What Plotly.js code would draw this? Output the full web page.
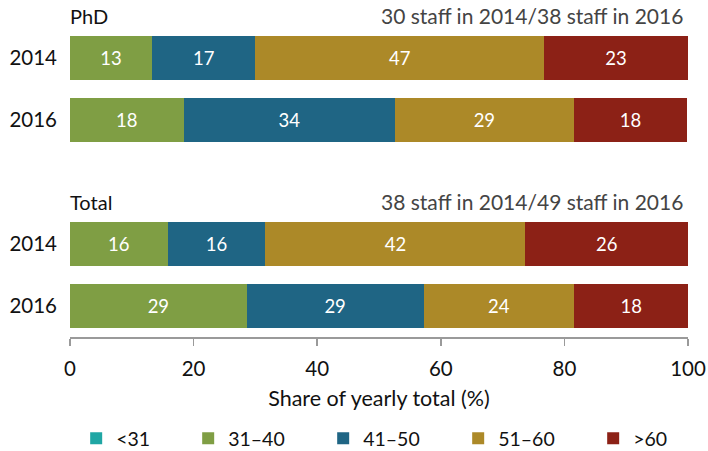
<!DOCTYPE html>
<html>
<head>
<meta charset="utf-8">
<script src="https://cdn.plot.ly/plotly-3.0.1.min.js"></script>
<style>
  body { margin: 0; background: #fff; }
  #chart { width: 708px; height: 451px; }
</style>
</head>
<body>
<div id="chart"></div>
<script>
// rows: PhD 2014, PhD 2016, (gap), Total 2014, Total 2016
const rowPos = [0, 1, 3, 4];
const rowLabels = ['2014', '2016', '2014', '2016'];

const ageGroups = ['<31', '31–40', '41–50', '51–60', '>60'];
const colors = ['#1fa6a4', '#7f9e44', '#1f6584', '#ac8928', '#8c2116'];
const legendWidths = [67, 90, 90, 90, 40];

// share of yearly total (%) per age group, one entry per row
const under31 = [0, 0, 0, 0];
const age31to40 = [13.3, 18.4, 15.8, 28.6];
const age41to50 = [16.7, 34.2, 15.8, 28.6];
const age51to60 = [46.7, 28.9, 42.1, 24.4];
const over60 = [23.3, 18.4, 26.3, 18.4];
const seriesValues = [under31, age31to40, age41to50, age51to60, over60];

const groupTitles = ['PhD', 'Total'];
const groupNotes = ['30 staff in 2014/38 staff in 2016', '38 staff in 2014/49 staff in 2016'];
const groupTop = [-0.5, 2.5];

const font = 'Lato, "Open Sans", sans-serif';

const traces = seriesValues.map((vals, i) => ({
    type: 'bar',
    orientation: 'h',
    name: ageGroups[i],
    x: vals,
    y: rowPos,
    width: 0.71,
    marker: { color: colors[i] },
    legendwidth: legendWidths[i],
    texttemplate: '%{x:.0f}',
    textposition: i === 0 ? 'none' : 'inside',
    insidetextanchor: 'middle',
    textfont: { color: '#ffffff', size: 18.5, family: font },
    hoverinfo: 'name+x'
}));

const annotations = [];
groupTitles.forEach((t, i) => {
    annotations.push({
        text: t, xref: 'paper', yref: 'y', x: 0, y: groupTop[i],
        xanchor: 'left', yanchor: 'bottom', showarrow: false,
        font: { size: 20, color: '#111', family: font }, xshift: -2, yshift: -3
    });
    annotations.push({
        text: groupNotes[i], xref: 'paper', yref: 'y', x: 1, y: groupTop[i],
        xanchor: 'right', yanchor: 'bottom', showarrow: false,
        font: { size: 21, color: '#444', family: font }, xshift: -3, yshift: -3
    });
});

const layout = {
    width: 708,
    height: 451,
    margin: { l: 70, r: 20, t: 27, b: 114, autoexpand: false },
    barmode: 'stack',
    paper_bgcolor: '#ffffff',
    plot_bgcolor: '#ffffff',
    font: { family: font, size: 18, color: '#111' },
    showlegend: true,
    legend: {
        orientation: 'h',
        x: 0.01, xanchor: 'left',
        y: -0.265, yanchor: 'top',
        font: { size: 19.5, color: '#111' },
        traceorder: 'normal'
    },
    xaxis: {
        range: [0, 100],
        tickvals: [0, 20, 40, 60, 80, 100],
        showgrid: false,
        zeroline: false,
        showline: true,
        linecolor: '#9a9a9a',
        linewidth: 1.5,
        ticks: 'outside',
        ticklen: 7,
        tickwidth: 1.5,
        tickcolor: '#9a9a9a',
        ticklabelstandoff: 6,
        tickfont: { size: 20.5 },
        title: { text: 'Share of yearly total (%)', font: { size: 21.5 }, standoff: 12 },
        fixedrange: true
    },
    yaxis: {
        range: [4.5, -0.5],
        tickvals: rowPos,
        ticktext: rowLabels,
        showgrid: false,
        zeroline: false,
        showline: false,
        ticks: '',
        ticklabelstandoff: 12,
        tickfont: { size: 20.5 },
        fixedrange: true
    },
    annotations: annotations
};

Plotly.newPlot('chart', traces, layout, { displayModeBar: false, staticPlot: true });
</script>
</body>
</html>
